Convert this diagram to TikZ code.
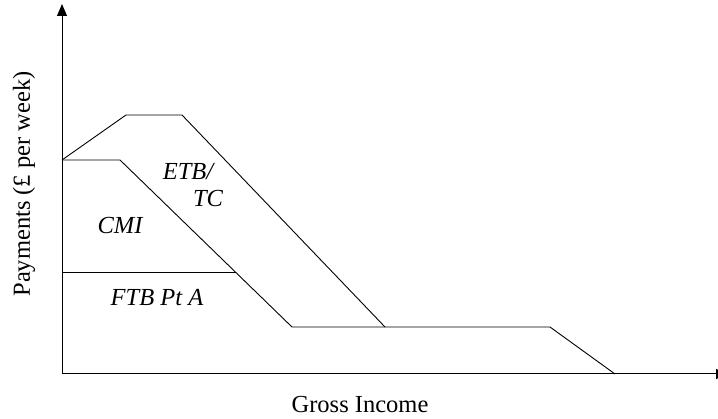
\documentclass[tikz,border=0pt]{standalone}
\usepackage{fontspec}
\setmainfont{Liberation Serif}
\usetikzlibrary{arrows.meta}
\begin{document}
\begin{tikzpicture}[x=1pt,y=-1pt,
  ln/.style={line width=0.9pt,black},
  ax/.style={line width=1pt,-{Triangle[length=12pt,width=10pt]}},
  lbl/.style={font=\fontsize{24.5}{28}\selectfont\itshape,inner sep=0pt},
  albl/.style={font=\fontsize{24.5}{28}\selectfont,inner sep=0pt}]
\useasboundingbox (0,0) rectangle (718,419);
\begin{scope}
\clip (0,0) rectangle (718,419);
\coordinate (O) at (62,374);
\coordinate (Ytop) at (62,4);
\coordinate (Xend) at (728,374);
\draw[ax] (O) -- (Ytop);
\draw[ax] (O) -- (Xend);
\end{scope}
% top curve (ETB/TC)
\coordinate (a0) at (62,160);
\coordinate (a1) at (126,115);
\coordinate (a2) at (182,115);
\coordinate (a3) at (385,327);
\draw[ln] (a0) -- (a1) -- (a2) -- (a3);
% middle curve (CMI + FTB)
\coordinate (b1) at (120,160);
\coordinate (b2) at (292,327);
\coordinate (b3) at (550,327);
\coordinate (b4) at (615,374);
\draw[ln] (a0) -- (b1) -- (b2) -- (b3) -- (b4);
% FTB level line
\coordinate (c0) at (62,272);
\coordinate (c1) at (236,272);
\draw[ln] (c0) -- (c1);
% labels
\node[lbl] (etb) at (188,172) {ETB/};
\node[lbl] (tc) at (208,199) {TC};
\node[lbl] (cmi) at (120,226) {CMI};
\node[lbl] (ftb) at (157,298) {FTB Pt A};
\node[albl] (gi) at (360,405) {Gross Income};
\node[albl,rotate=90] (pay) at (24,184) {Payments (£ per week)};
\end{tikzpicture}
\end{document}
